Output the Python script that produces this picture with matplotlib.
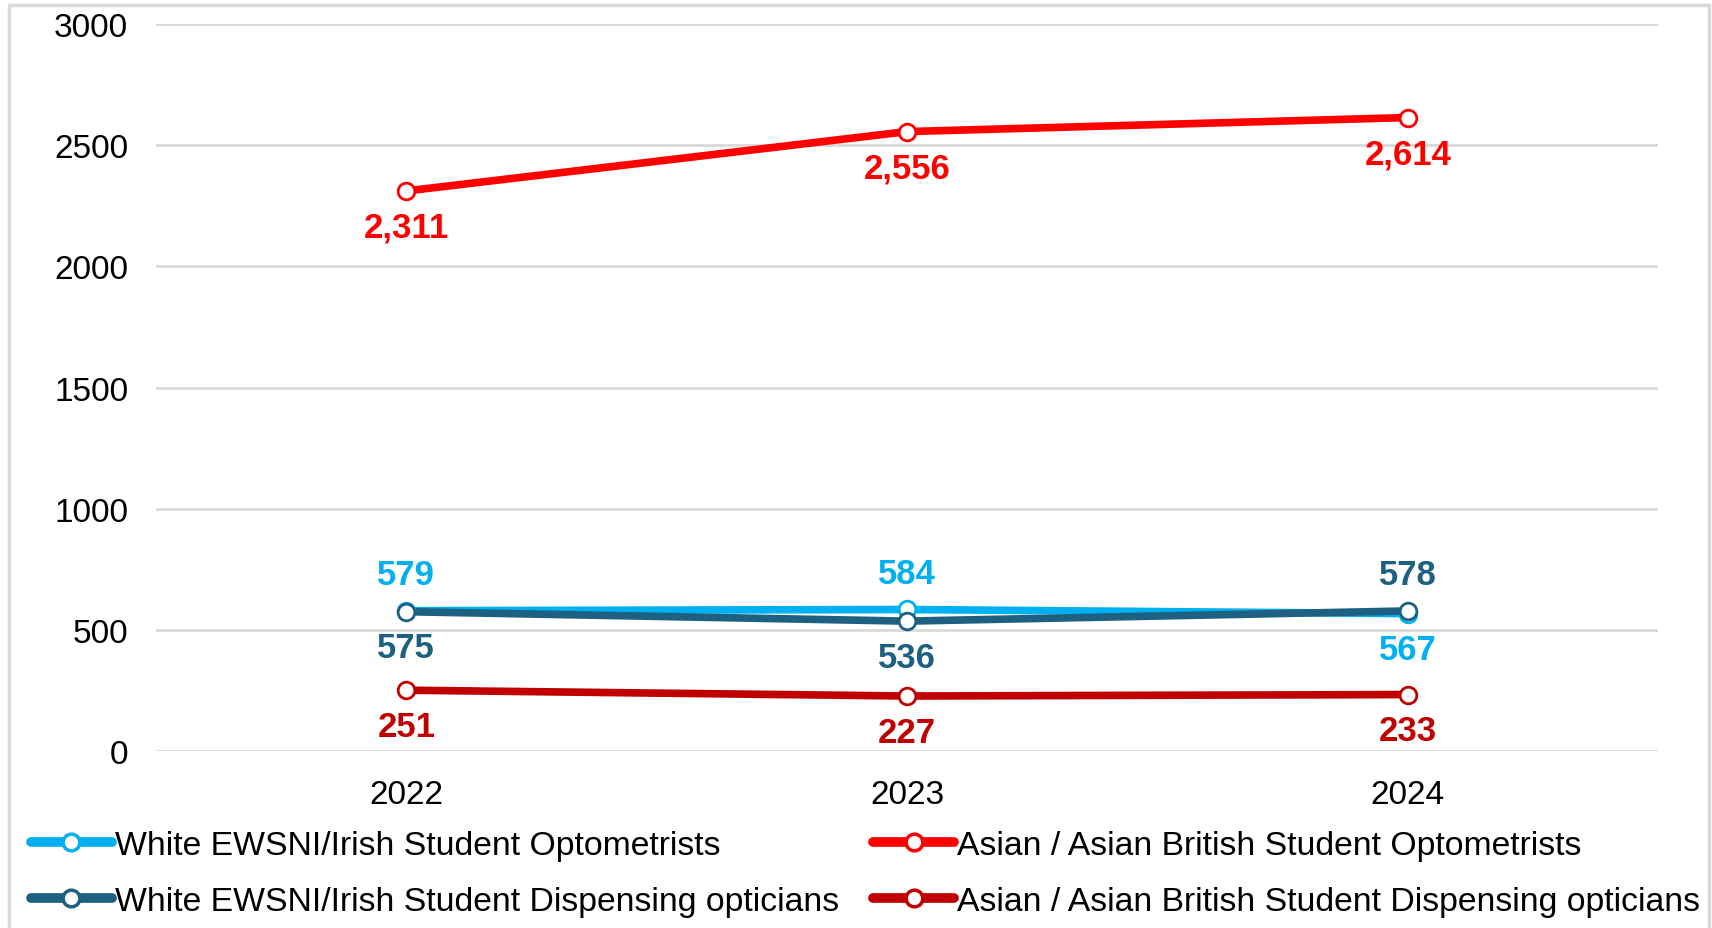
import numpy as np
import matplotlib.pyplot as plt
from matplotlib.lines import Line2D

plt.rcParams['font.family'] = ['Liberation Sans', 'DejaVu Sans']

years = ['2022', '2023', '2024']
white_opt = [579, 584, 567]
white_do = [575, 536, 578]
asian_opt = [2311, 2556, 2614]
asian_do = [251, 227, 233]

labels = ['White EWSNI/Irish Student Optometrists',
          'White EWSNI/Irish Student Dispensing opticians',
          'Asian / Asian British Student Optometrists',
          'Asian / Asian British Student Dispensing opticians']
colors = ['#00B0F0', '#1D6082', '#FF0000', '#C00000']
# +1 label above point, -1 below
label_side = [[1, 1, -1], [-1, -1, 1], [-1, -1, -1], [-1, -1, -1]]

fig = plt.figure(figsize=(17.12, 9.29), dpi=100)
ax = fig.add_axes([0.0911, 0.1905, 0.8774, 0.7826])

x = np.arange(len(years))
series = [white_opt, white_do, asian_opt, asian_do]
handles = []
for vals, c, lab, sides in zip(series, colors, labels, label_side):
    ax.plot(x, vals, color=c, lw=5.5, zorder=3, solid_capstyle='round')
    ax.plot(x, vals, 'o', ms=12, mfc='white', mec=c, mew=2, zorder=4)
    for xi, v, s in zip(x, vals, sides):
        ax.annotate(f'{v:,}', (xi, v), xytext=(0, 26 * s), textcoords='offset points',
                    ha='center', va='center', color=c, fontsize=25, fontweight='bold',
                    zorder=5)
    handles.append(Line2D([], [], color=c, lw=7, marker='o', ms=12, mfc='white',
                          mec=c, mew=2.5, solid_capstyle='round'))

ax.set_xlim(-0.5, 2.5)
ax.set_ylim(0, 3000)
ax.set_yticks([0, 500, 1000, 1500, 2000, 2500, 3000])
ax.set_xticks(x)
ax.set_xticklabels(years)
ax.tick_params(axis='both', length=0, labelsize=24)
ax.tick_params(axis='y', pad=20)
ax.tick_params(axis='x', pad=20)
ax.grid(axis='y', color='#D9D9D9', lw=2)
ax.set_axisbelow(True)
for sp in ax.spines.values():
    sp.set_visible(False)

fig.legend(handles, labels, loc='upper left', bbox_to_anchor=(0.018, 0.106), ncol=2,
           frameon=False, fontsize=24.3, handlelength=2.4, handletextpad=0.1,
           columnspacing=1.0, labelspacing=0.75, borderpad=0, borderaxespad=0)

# light grey frame around the chart
fig.add_artist(plt.Rectangle((9 / 1712, -0.02), 1700 / 1712, 1 - 6 / 929 + 0.02,
                             transform=fig.transFigure, fill=False,
                             edgecolor='#D9D9D9', lw=2.5))

fig.savefig('out.png', dpi=100)
